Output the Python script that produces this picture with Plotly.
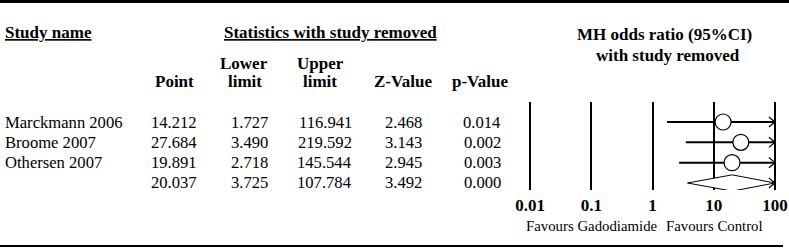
import plotly.graph_objects as go

# ---------------- data ----------------
studies = ["Marckmann 2006", "Broome 2007", "Othersen 2007", ""]
point = [14.212, 27.684, 19.891, 20.037]
lower = [1.727, 3.490, 2.718, 3.725]
upper = [116.941, 219.592, 145.544, 107.784]
zval = [2.468, 3.143, 2.945, 3.492]
pval = [0.014, 0.002, 0.003, 0.000]
tick_vals = [0.01, 0.1, 1, 10, 100]
tick_text = ["0.01", "0.1", "1", "10", "100"]
favours = ["Favours Gadodiamide", "Favours Control"]
is_summary = [False, False, False, True]

W, H = 789, 252
FONT = "Liberation Serif"
FS = 16.6
FSB = 17
FSF = 14.8
XMIN, XMAX = 0.01, 100  # display clip limits

def py(p):  # pixel-from-top -> paper y
    return 1 - p / H

def px(p):
    return p / W

fig = go.Figure()

n = len(studies)
for i in range(n):
    lo = max(lower[i], XMIN)
    hi = min(upper[i], XMAX)
    if is_summary[i]:
        fig.add_trace(go.Scatter(
            x=[lo, point[i], hi, point[i], lo],
            y=[i, i - 0.4, i, i + 0.4, i],
            mode="lines", fill="toself", fillcolor="white",
            line=dict(color="black", width=1), cliponaxis=False,
            hoverinfo="skip", showlegend=False))
    else:
        fig.add_trace(go.Scatter(
            x=[lo, hi], y=[i, i], mode="lines",
            line=dict(color="black", width=2), cliponaxis=False,
            hoverinfo="skip", showlegend=False))
        fig.add_trace(go.Scatter(
            x=[point[i]], y=[i], mode="markers",
            marker=dict(symbol="circle", size=16, color="white",
                        line=dict(color="black", width=1.2)),
            cliponaxis=False, hoverinfo="skip", showlegend=False))
    if upper[i] > XMAX:
        k = 10 ** -0.1
        fig.add_trace(go.Scatter(
            x=[XMAX * k, XMAX, XMAX * k], y=[i - 0.25, i, i + 0.25],
            mode="lines", line=dict(color="black", width=1.2),
            cliponaxis=False, hoverinfo="skip", showlegend=False))

# axes: decade = 61.25 px, 0.01 at x=530
dec = 61.25
x0 = 530 - 0.03 * dec
x1 = 775 + 0.03 * dec
fig.update_xaxes(
    type="log", range=[-2.03, 2.03], domain=[px(x0), px(x1)],
    tickvals=tick_vals, ticktext=["<b>%s</b>" % t for t in tick_text],
    tickfont=dict(family=FONT, size=FSB, color="black"),
    showgrid=True, gridcolor="black", gridwidth=2,
    zeroline=False, showline=False, ticks="", ticklabelstandoff=3,
    automargin=False)
# rows: row 0 at pixel 122, spacing 20.33
y_top_px, y_bot_px = 102, 190
step = 20.33
r0 = -(122 - y_top_px) / step
r1 = r0 + (y_bot_px - y_top_px) / step
fig.update_yaxes(range=[r1, r0], domain=[py(y_bot_px), py(y_top_px)],
                 showgrid=False, zeroline=False, showticklabels=False,
                 showline=False, automargin=False)

ann = []
def txt(text, x, y, anchor="center", bold=False, yref="paper", size=None):
    if size is None:
        size = FSB if bold else FS
    ann.append(dict(text=("<b>%s</b>" % text) if bold else text,
                    x=x, y=y, xref="paper", yref=yref, xanchor=anchor,
                    yanchor="middle", showarrow=False,
                    font=dict(family=FONT, size=size, color="black")))

# headers
txt("<u>Study name</u>", px(3), py(33), "left", True)
txt("<u>Statistics with study removed</u>", px(330), py(33), "center", True)
txt("MH odds ratio (95%CI)", px(664), py(35), "center", True)
txt("with study removed", px(668), py(55), "center", True)
txt("Point", px(174), py(82), "center", True)
txt("Lower", px(244), py(63), "center", True)
txt("limit", px(245), py(82), "center", True)
txt("Upper", px(320), py(63), "center", True)
txt("limit", px(320), py(82), "center", True)
txt("Z-Value", px(403), py(82), "center", True)
txt("p-Value", px(480), py(82), "center", True)

# table body
for i in range(n):
    if studies[i]:
        txt(studies[i], px(3), i, "left", yref="y")
    txt("%.3f" % point[i], px(199), i, "right", yref="y")
    txt("%.3f" % lower[i], px(270), i, "right", yref="y")
    txt("%.3f" % upper[i], px(354), i, "right", yref="y")
    txt("%.3f" % zval[i], px(424), i, "right", yref="y")
    txt("%.3f" % pval[i], px(503), i, "right", yref="y")

txt(favours[0], px(592), py(226), "center", size=FSF)
txt(favours[1], px(714.5), py(226), "center", size=FSF)

shapes = [
    dict(type="line", xref="paper", yref="paper", x0=0, x1=1,
         y0=py(1.5), y1=py(1.5), line=dict(color="black", width=3)),
    dict(type="line", xref="paper", yref="paper", x0=0, x1=px(783),
         y0=py(246), y1=py(246), line=dict(color="black", width=2)),
]

fig.update_layout(width=W, height=H,
                  margin=dict(l=0, r=0, t=0, b=0, pad=0, autoexpand=False),
                  plot_bgcolor="white", paper_bgcolor="white",
                  annotations=ann, shapes=shapes, showlegend=False,
                  font=dict(family=FONT, size=FS, color="black"))

fig.write_html("out.html", config={"displayModeBar": False},
               post_script="document.body.style.margin='0';document.body.style.padding='0';")
